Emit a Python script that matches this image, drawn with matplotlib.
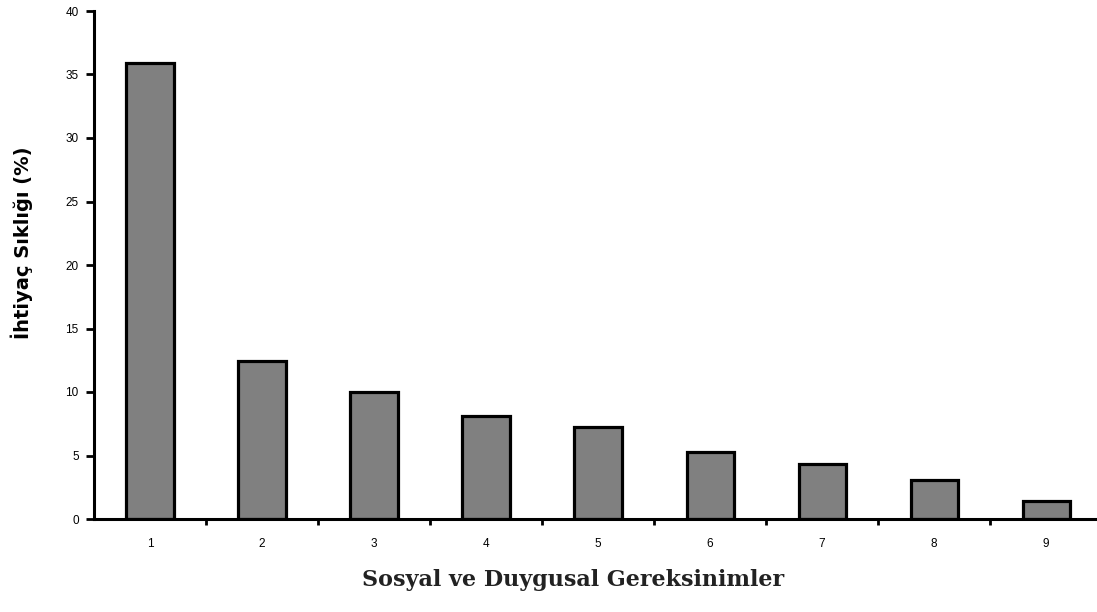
import matplotlib.pyplot as plt
import numpy as np

# data
categories = ['1', '2', '3', '4', '5', '6', '7', '8', '9']
values = [35.9, 12.45, 10.0, 8.1, 7.25, 5.3, 4.35, 3.1, 1.45]
y_ticks = [0, 5, 10, 15, 20, 25, 30, 35, 40]

fig = plt.figure(figsize=(10.97, 6.12), dpi=100)
ax = fig.add_axes([94 / 1097, 93 / 612, 1003 / 1097, 508 / 612])

x = np.arange(1, len(categories) + 1)
ax.bar(x, values, width=0.42, color='#808080', edgecolor='black', linewidth=2.3)

ax.set_xlim(0.5, 9.455)
ax.set_ylim(0, 40)
ax.set_yticks(y_ticks)
ax.set_yticklabels([str(t) for t in y_ticks], fontsize=8.5, family='Liberation Sans')

# category labels at centers, tick marks between categories
ax.set_xticks(x)
ax.set_xticklabels(categories, fontsize=8.5, family='Liberation Sans')
ax.tick_params(axis='x', length=0, pad=14)
ax.set_xticks(np.arange(1.5, 9.5, 1), minor=True)
ax.tick_params(axis='x', which='minor', length=4, width=2, direction='out')
ax.tick_params(axis='y', length=6, width=2, direction='out', pad=5)

for s in ['top', 'right']:
    ax.spines[s].set_visible(False)
for s in ['left', 'bottom']:
    ax.spines[s].set_linewidth(2.2)

ax.set_xlabel('Sosyal ve Duygusal Gereksinimler', fontsize=16, fontweight='bold',
              family='DejaVu Serif', color='#222222')
ax.xaxis.set_label_coords((573 - 94) / 1003, -(580 - 519) / 508)
ax.set_ylabel('İhtiyaç Sıklığı (%)', fontsize=14, fontweight='bold',
              family='DejaVu Sans')
ax.yaxis.set_label_coords(-(94 - 22) / 1003, (519 - 243) / 508)
ax.yaxis.label.set_va('center')
ax.xaxis.label.set_va('center')

fig.savefig('out.png', dpi=100)
